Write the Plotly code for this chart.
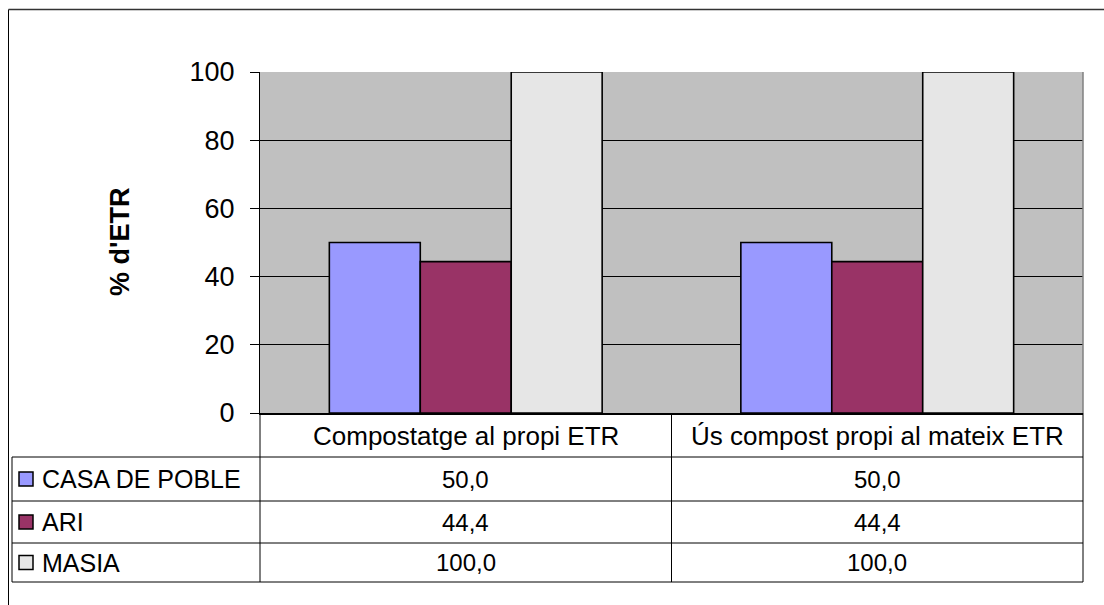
import plotly.graph_objects as go

categories = ["Compostatge al propi ETR", "Ús compost propi al mateix ETR"]
series_names = ["CASA DE POBLE", "ARI", "MASIA"]
casa_de_poble = [50.0, 50.0]
ari = [44.4, 44.4]
masia = [100.0, 100.0]
y_ticks = [0, 20, 40, 60, 80, 100]
y_title = "% d'ETR"

series_values = [casa_de_poble, ari, masia]
colors = ["#9999FF", "#993366", "#E6E6E6"]

# body margin is removed in the page; figure is a bit taller than the window
# (the overflow is hidden) so that the frame runs off the bottom like the original
W, H = 1104, 620
# reference-pixel geometry of plot area
PL, PR, PT, PB = 260, 1083, 72, 413
L, R, T, B = PL, W - PR, PT, H - PB
PW = PR - PL
PH = PB - PT

def px(x):
    return (x - PL) / PW

def py(y):
    return (PB - y) / PH

FONT = "Liberation Sans, Arial, sans-serif"

fig = go.Figure()
for name, vals, col in zip(series_names, series_values, colors):
    fig.add_trace(go.Bar(
        x=categories, y=vals, name=name,
        marker=dict(color=col, line=dict(color="black", width=1.6)),
        showlegend=False, hoverinfo="skip",
    ))

shapes = []
annotations = []

# outer border (left & top)
shapes.append(dict(type="line", xref="paper", yref="paper",
                   x0=px(8.5), x1=px(8.5), y0=py(9.5), y1=py(H),
                   line=dict(color="black", width=1)))
shapes.append(dict(type="line", xref="paper", yref="paper",
                   x0=px(8.5), x1=px(W), y0=py(9.5), y1=py(9.5),
                   line=dict(color="#333333", width=1.5)))
# plot-area right border (gray)
shapes.append(dict(type="line", xref="paper", yref="paper",
                   x0=1, x1=1, y0=0, y1=1, line=dict(color="#808080", width=1.5)))

# table geometry
row_lines = [457, 501, 543, 582]
table_left = 12
for yl in row_lines:
    shapes.append(dict(type="line", xref="paper", yref="paper",
                       x0=px(table_left), x1=1, y0=py(yl), y1=py(yl),
                       line=dict(color="black", width=1)))
shapes.append(dict(type="line", xref="paper", yref="paper",
                   x0=px(table_left), x1=px(table_left), y0=py(row_lines[0]), y1=py(row_lines[-1]),
                   line=dict(color="black", width=1)))
for xv in [0, 0.5, 1]:
    shapes.append(dict(type="line", xref="paper", yref="paper",
                       x0=xv, x1=xv, y0=0, y1=py(row_lines[-1]),
                       line=dict(color="black", width=1)))

# category header labels
header_center = (414 + row_lines[0]) / 2
for c in categories:
    annotations.append(dict(x=c, xref="x", y=py(header_center), yref="paper",
                            text=c, showarrow=False, xanchor="center", yanchor="middle",
                            font=dict(family=FONT, size=26, color="black")))

# rows
for i, (name, vals, col) in enumerate(zip(series_names, series_values, colors)):
    cy = (row_lines[i] + row_lines[i + 1]) / 2
    shapes.append(dict(type="rect", xref="paper", yref="paper",
                       x0=px(19), x1=px(33), y0=py(cy - 7), y1=py(cy + 7),
                       fillcolor=col, line=dict(color="black", width=1.5)))
    annotations.append(dict(x=px(40), xref="paper", y=py(cy), yref="paper",
                            text=name, showarrow=False, xanchor="left", yanchor="middle",
                            font=dict(family=FONT, size=25, color="black")))
    for c, v in zip(categories, vals):
        annotations.append(dict(x=c, xref="x", y=py(cy), yref="paper",
                                text=f"{v:.1f}".replace(".", ","), showarrow=False,
                                xanchor="center", yanchor="middle",
                                font=dict(family=FONT, size=24, color="black")))

# y-axis title
annotations.append(dict(x=px(120), xref="paper", y=py(242), yref="paper",
                        text=f"<b>{y_title}</b>", showarrow=False, textangle=-90,
                        xanchor="center", yanchor="middle",
                        font=dict(family=FONT, size=27, color="black")))

fig.update_layout(
    width=W, height=H,
    margin=dict(l=L, r=R, t=T, b=B, pad=0),
    paper_bgcolor="white", plot_bgcolor="#C0C0C0",
    barmode="group", bargap=0.337, bargroupgap=0,
    shapes=shapes, annotations=annotations,
    font=dict(family=FONT, color="black"),
)
fig.update_xaxes(showticklabels=False, showline=True, linecolor="black", linewidth=2,
                 showgrid=False, ticks="", range=[-0.5, 1.5], zeroline=False)
fig.update_yaxes(range=[0, 100], tickvals=y_ticks, ticks="outside", ticklen=9,
                 tickcolor="black", tickwidth=1, showgrid=True, gridcolor="black",
                 gridwidth=1, showline=True, linecolor="black", linewidth=1,
                 tickfont=dict(family=FONT, size=27, color="black"),
                 ticklabelstandoff=10, zeroline=False)

fig.write_html(
    "out.html",
    config={"displayModeBar": False},
    post_script=("document.body.style.margin='0';"
                 "document.body.style.overflow='hidden';"
                 "document.documentElement.style.overflow='hidden';"),
)
